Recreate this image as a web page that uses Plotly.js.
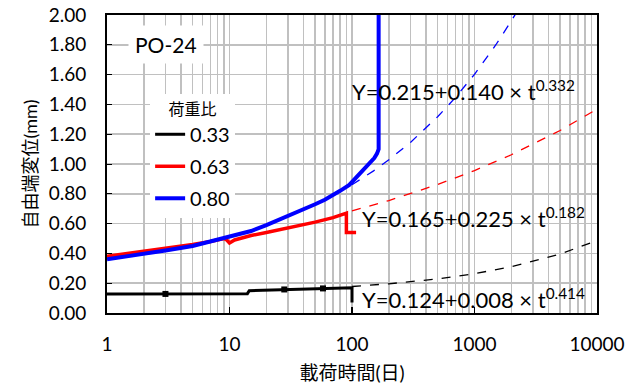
<!DOCTYPE html>
<html><head><meta charset="utf-8">
<script src="https://cdn.plot.ly/plotly-3.0.1.min.js"></script>
<style>body{margin:0;background:#fff}#c{width:641px;height:388px}</style>
</head><body><div id="c"></div>
<script>
// measured data (載荷時間 t [日], 自由端変位 [mm])
const t033 = [1, 3, 14, 14.5, 28, 58, 100, 100];
const y033 = [0.128, 0.128, 0.130, 0.150, 0.158, 0.165, 0.170, 0.07];
const mk033t = [3, 28, 58];
const mk033y = [0.128, 0.158, 0.165];

const t063 = [1, 1.5, 2, 3, 5, 7, 9, 9.5, 10, 11, 12, 15, 20, 30, 40, 50, 70, 88, 90, 90, 108];
const y063 = [0.38, 0.40, 0.41, 0.43, 0.46, 0.48, 0.50, 0.49, 0.47, 0.49, 0.50, 0.52, 0.54, 0.57, 0.59, 0.61, 0.64, 0.67, 0.67, 0.54, 0.54];

const t080 = [1, 1.5, 2, 3, 5, 7, 10, 15, 20, 30, 40, 50, 60, 70, 80, 95, 115, 130, 152, 160, 165, 165];
const y080 = [0.36, 0.38, 0.40, 0.42, 0.45, 0.48, 0.51, 0.55, 0.59, 0.65, 0.69, 0.73, 0.76, 0.79, 0.82, 0.86, 0.93, 0.98, 1.04, 1.07, 1.10, 2.10];

// fitted curves (dashed)
const tFit033 = [100, 200, 500, 1000, 2000, 5000, 10000];
const yFit033 = [0.178, 0.196, 0.229, 0.264, 0.310, 0.396, 0.486];
const tFit063 = [100, 200, 500, 1000, 2000, 5000, 10000];
const yFit063 = [0.685, 0.755, 0.862, 0.956, 1.062, 1.225, 1.368];
const tFit080 = [100, 150, 200, 300, 500, 700, 1000, 1500, 2000, 2200];
const yFit080 = [0.861, 0.954, 1.028, 1.145, 1.317, 1.447, 1.602, 1.802, 1.961, 2.017];

const legendNames = ["0.33", "0.63", "0.80"];
const xTickVals = [1, 10, 100, 1000, 10000];
const xTickText = ["1", "10", "100", "1000", "10000"];
const eqTexts = [
  "Y=0.215+0.140 × t<sup>0.332</sup>",
  "Y=0.165+0.225 × t<sup>0.182</sup>",
  "Y=0.124+0.008 × t<sup>0.414</sup>"
];

const FONT = 'Lato, "Noto Sans CJK JP", sans-serif';
const traces = [
  {x: tFit033, y: yFit033, mode: 'lines', line: {color: '#000', width: 1.3, dash: 'dash'}, showlegend: false, hoverinfo: 'skip'},
  {x: tFit063, y: yFit063, mode: 'lines', line: {color: '#ff0000', width: 1.3, dash: 'dash'}, showlegend: false, hoverinfo: 'skip'},
  {x: tFit080, y: yFit080, mode: 'lines', line: {color: '#0000ff', width: 1.3, dash: 'dash'}, showlegend: false, hoverinfo: 'skip'},
  {x: t033, y: y033, mode: 'lines', name: legendNames[0], legendgroup: 'a', line: {color: '#000', width: 3}},
  {x: t063, y: y063, mode: 'lines', name: legendNames[1], legendgroup: 'b', line: {color: '#ff0000', width: 3.5}},
  {x: t080, y: y080, mode: 'lines', name: legendNames[2], legendgroup: 'c', line: {color: '#0000ff', width: 4}},
  {x: mk033t, y: mk033y, mode: 'markers', marker: {color: '#000', size: 6, symbol: 'square'}, showlegend: false}
];

const layout = {
  width: 641, height: 388,
  margin: {l: 107, r: 44, t: 15, b: 75},
  paper_bgcolor: '#fff', plot_bgcolor: '#fff',
  font: {family: FONT, size: 19, color: '#000'},
  showlegend: true,
  legend: {
    x: 0.088, y: 0.735, xanchor: 'left', yanchor: 'top',
    bgcolor: '#fff', borderwidth: 0,
    font: {size: 20},
    title: {text: '荷重比', font: {size: 16}, side: 'top center'},
    tracegroupgap: 3
  },
  xaxis: {
    type: 'log', range: [0, 4],
    tickvals: xTickVals, ticktext: xTickText,
    ticks: 'inside', ticklen: 6, tickcolor: '#000', tickwidth: 1.5,
    showgrid: true, gridcolor: '#c0c0c0', gridwidth: 1.5,
    minor: {dtick: 'D1', showgrid: true, gridcolor: '#c0c0c0', gridwidth: 1.5, ticks: ''},
    showline: true, linecolor: '#000', linewidth: 2, mirror: true,
    tickfont: {size: 19}, ticklabelstandoff: 13,
    title: {text: '載荷時間(日)', font: {size: 19}, standoff: 13},
    zeroline: false, automargin: false
  },
  yaxis: {
    range: [0, 2], dtick: 0.2, tickformat: '.2f',
    ticks: 'inside', ticklen: 5, tickcolor: '#000',
    showgrid: true, gridcolor: '#c0c0c0', gridwidth: 1.5,
    showline: true, linecolor: '#000', linewidth: 2, mirror: true,
    tickfont: {size: 19}, ticklabelstandoff: 15,
    title: {text: '自由端変位(mm)', font: {size: 18}, standoff: 6},
    zeroline: false, automargin: false
  },
  annotations: [
    {xref: 'paper', yref: 'paper', x: 0.12, y: 0.9, xanchor: 'center', yanchor: 'middle',
     text: 'PO-24', showarrow: false, font: {size: 21}, bgcolor: '#fff', borderpad: 6},
    {xref: 'paper', yref: 'paper', x: 0.496, y: 0.748, xanchor: 'left', yanchor: 'middle',
     text: eqTexts[0], showarrow: false, font: {size: 22}},
    {xref: 'paper', yref: 'paper', x: 0.516, y: 0.319, xanchor: 'left', yanchor: 'middle',
     text: eqTexts[1], showarrow: false, font: {size: 22}},
    {xref: 'paper', yref: 'paper', x: 0.516, y: 0.05, xanchor: 'left', yanchor: 'middle',
     text: eqTexts[2], showarrow: false, font: {size: 22}}
  ]
};

Plotly.newPlot('c', traces, layout, {staticPlot: true});
</script></body></html>
